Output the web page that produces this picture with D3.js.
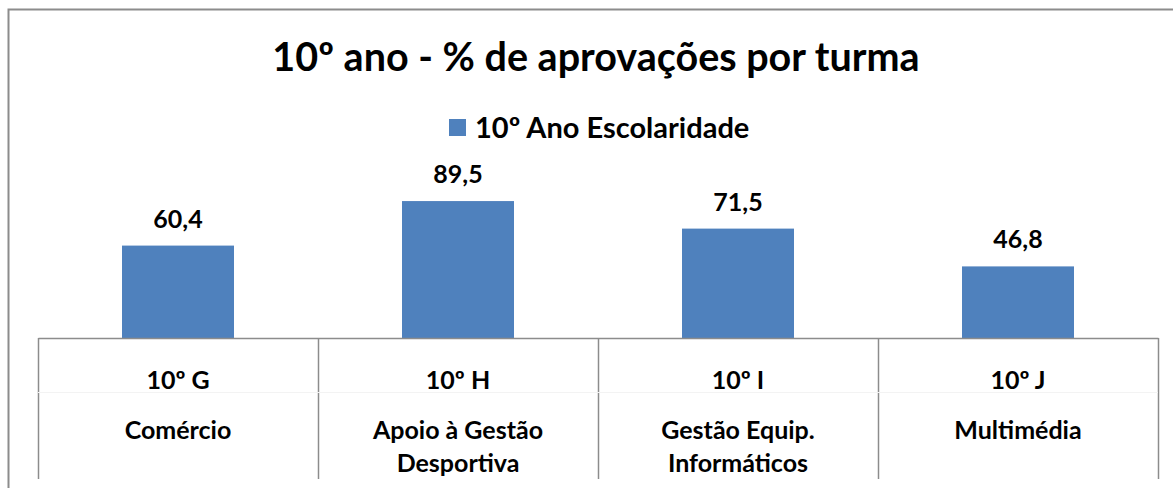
<!DOCTYPE html>
<html>
<head>
<meta charset="utf-8">
<script src="https://cdn.jsdelivr.net/npm/d3@7"></script>
<style>
  body { margin: 0; background: #fff; }
  text { font-family: Lato, "Open Sans", sans-serif; font-weight: bold; fill: #000; }
</style>
</head>
<body>
<div id="chart"></div>
<script>
// data
var turmas = ["10º G", "10º H", "10º I", "10º J"];
var cursos = [["Comércio"], ["Apoio à Gestão", "Desportiva"], ["Gestão Equip.", "Informáticos"], ["Multimédia"]];
var aprovacoes = [60.4, 89.5, 71.5, 46.8];
var serieNome = "10º Ano Escolaridade";
var titulo = "10º ano - % de aprovações por turma";

var W = 1173, H = 488;
var plot = {left: 38, right: 1158, top: 185, bottom: 338};

var svg = d3.select("#chart").append("svg")
    .attr("width", W)
    .attr("height", H);

// outer chart frame
svg.append("rect")
    .attr("x", 8.5).attr("y", 9.5)
    .attr("width", 1200).attr("height", 600)
    .style("fill", "none")
    .style("stroke", "#8c8c8c")
    .style("stroke-width", 2);

var x = d3.scaleBand()
    .domain(turmas)
    .range([plot.left, plot.right])
    .paddingInner(0)
    .paddingOuter(0);

var y = d3.scaleLinear()
    .domain([0, 100])
    .range([plot.bottom, plot.top]);

var barW = x.bandwidth() * 0.4;

svg.append("text")
    .attr("x", 596)
    .attr("y", 71)
    .attr("text-anchor", "middle")
    .attr("font-size", 39.5)
    .text(titulo);

// legend
var legend = svg.append("g").attr("transform", "translate(449,119)");
legend.append("rect")
    .attr("width", 17).attr("height", 17)
    .style("fill", "#4f81bd");
legend.append("text")
    .attr("x", 26).attr("y", 19)
    .attr("font-size", 29)
    .text(serieNome);

svg.selectAll(".bar")
    .data(aprovacoes)
    .enter().append("rect")
    .attr("class", "bar")
    .attr("x", function(d, i) { return x(turmas[i]) + (x.bandwidth() - barW) / 2; })
    .attr("y", function(d) { return y(d); })
    .attr("width", barW)
    .attr("height", function(d) { return y(0) - y(d); })
    .style("fill", "#4f81bd");

svg.selectAll(".valLabel")
    .data(aprovacoes)
    .enter().append("text")
    .attr("class", "valLabel")
    .attr("x", function(d, i) { return x(turmas[i]) + x.bandwidth() / 2; })
    .attr("y", function(d) { return y(d) - 18; })
    .attr("text-anchor", "middle")
    .attr("font-size", 25)
    .text(function(d) { return d3.format(".1f")(d).replace(".", ","); });

// category axis as a table
var xAxis = d3.axisBottom(x).tickSize(0).tickFormat("");
svg.append("g")
    .attr("class", "x axis")
    .attr("transform", "translate(0," + plot.bottom + ")")
    .call(xAxis)
    .call(function(g) { g.select(".domain").attr("stroke", "#8c8c8c").attr("stroke-width", 1.5); });

var edges = turmas.map(function(t) { return x(t); }).concat([plot.right]);
svg.selectAll(".divLine")
    .data(edges)
    .enter().append("line")
    .attr("class", "divLine")
    .attr("x1", function(d) { return Math.round(d) + 0.5; })
    .attr("x2", function(d) { return Math.round(d) + 0.5; })
    .attr("y1", plot.bottom)
    .attr("y2", 479)
    .style("stroke", "#8c8c8c")
    .style("stroke-width", 1.5);

svg.append("line")
    .attr("x1", plot.left).attr("x2", plot.right)
    .attr("y1", 392.5).attr("y2", 392.5)
    .style("stroke", "#f3f3f3");

svg.selectAll(".turmaLabel")
    .data(turmas)
    .enter().append("text")
    .attr("class", "turmaLabel")
    .attr("x", function(d) { return x(d) + x.bandwidth() / 2; })
    .attr("y", 389)
    .attr("text-anchor", "middle")
    .attr("font-size", 25)
    .text(function(d) { return d; });

var cursoLabels = svg.selectAll(".cursoLabel")
    .data(cursos)
    .enter().append("text")
    .attr("class", "cursoLabel")
    .attr("x", function(d, i) { return x(turmas[i]) + x.bandwidth() / 2; })
    .attr("y", 439)
    .attr("text-anchor", "middle")
    .attr("font-size", 25);

cursoLabels.selectAll("tspan")
    .data(function(d) { return d; })
    .enter().append("tspan")
    .attr("x", function() { return d3.select(this.parentNode).attr("x"); })
    .attr("dy", function(d, i) { return i === 0 ? 0 : 33; })
    .text(function(d) { return d; });
</script>
</body>
</html>
